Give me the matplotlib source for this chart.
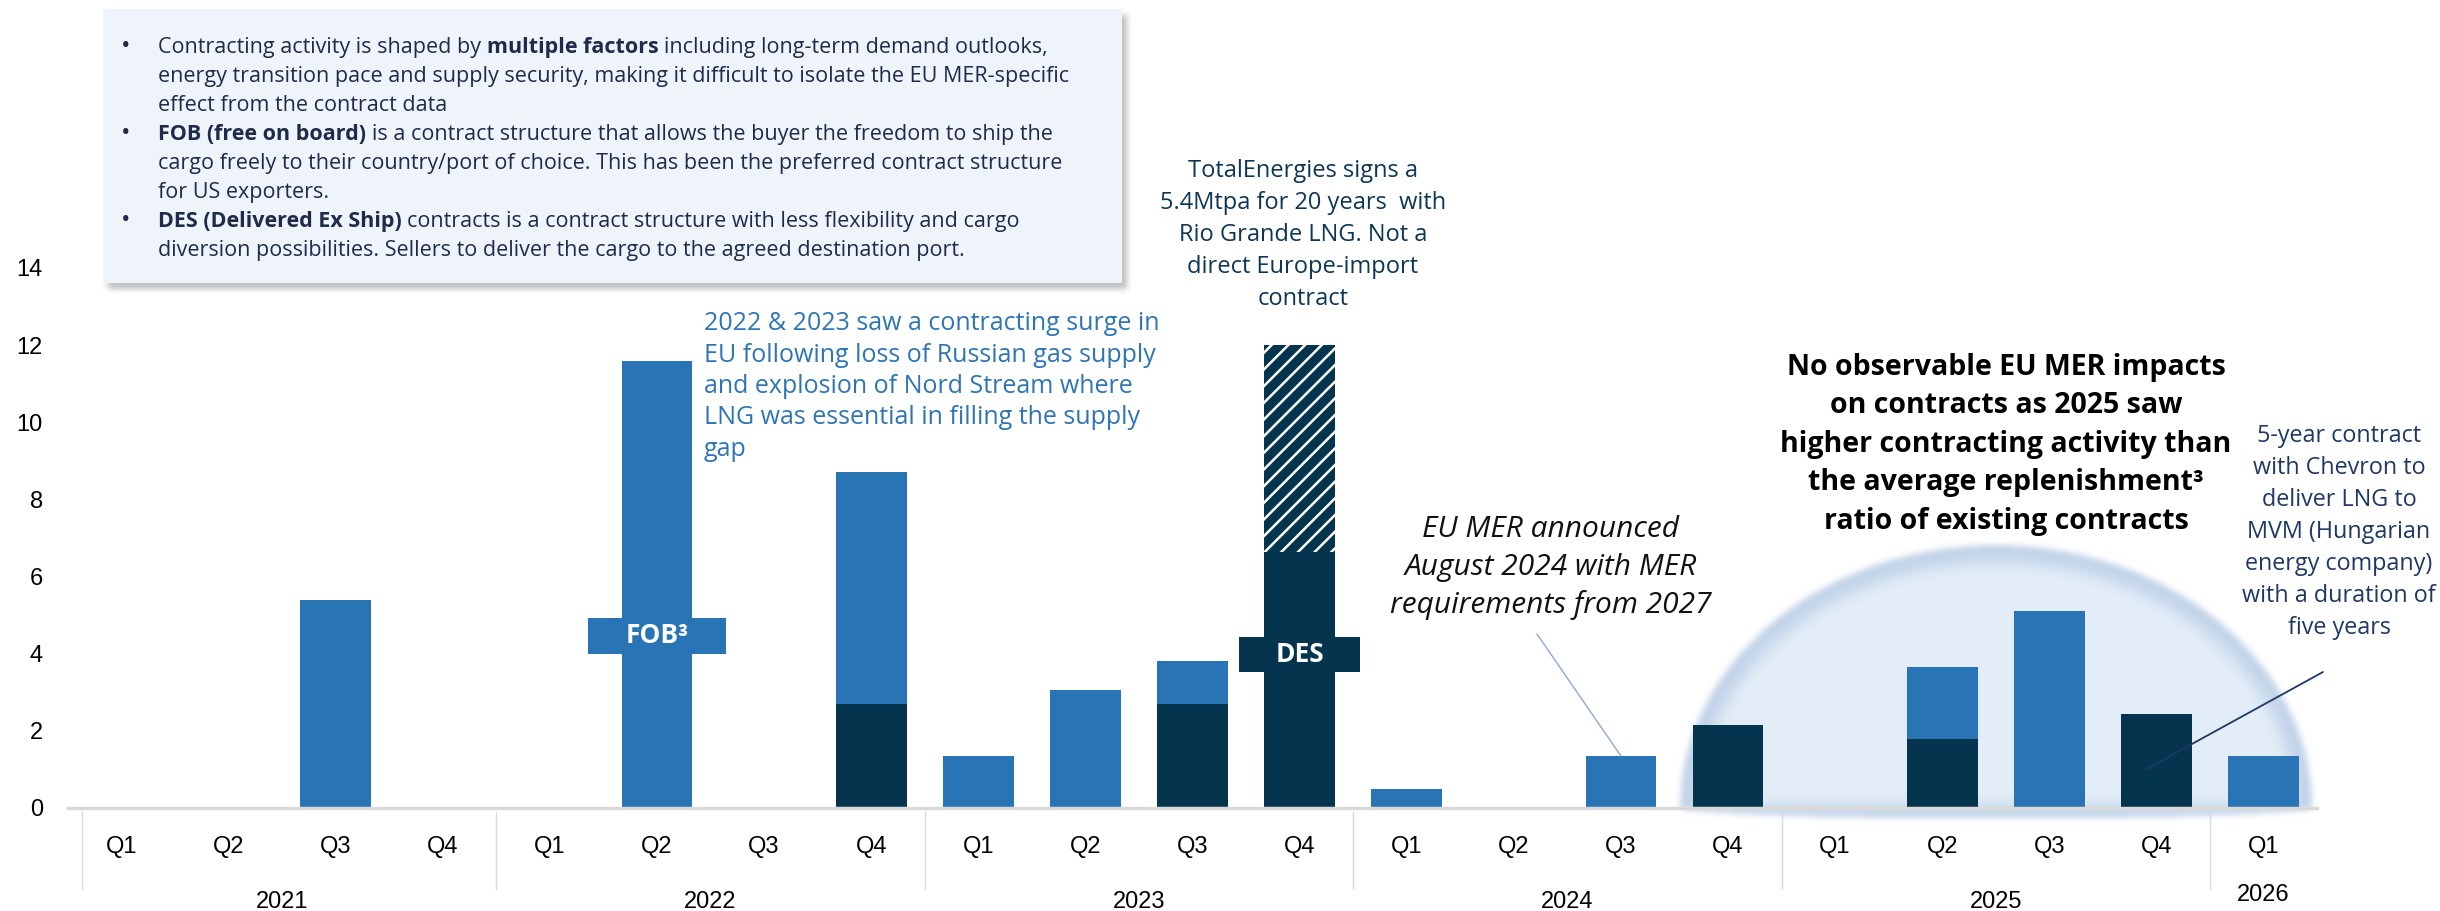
import numpy as np
import matplotlib
matplotlib.use("Agg")
import matplotlib.pyplot as plt
from matplotlib.patches import Rectangle
from matplotlib.text import Annotation
from matplotlib.transforms import blended_transform_factory

# quarterly LNG contract volumes (Mtpa), 2021 Q1 .. 2026 Q1
quarters = ["Q1", "Q2", "Q3", "Q4"] * 5 + ["Q1"]
years = ["2021", "2022", "2023", "2024", "2025", "2026"]
year_first = [0, 4, 8, 12, 16, 20]
year_last = [3, 7, 11, 15, 19, 20]

des = [0, 0, 0, 0, 0, 0, 0, 2.7, 0, 0, 2.7, 6.65, 0, 0, 0, 2.15, 0, 1.8, 0, 2.45, 0]
fob = [0, 0, 5.4, 0, 0, 11.6, 0, 6.0, 1.35, 3.05, 1.1, 0, 0.5, 0, 1.35, 0, 0, 1.85, 5.1, 0, 1.35]
non_europe = [0, 0, 0, 0, 0, 0, 0, 0, 0, 0, 0, 5.35, 0, 0, 0, 0, 0, 0, 0, 0, 0]

BLUE = "#2874B5"
NAVY = "#05344F"
W, H = 2440, 911

plt.rcParams["font.family"] = ["Open Sans", "DejaVu Sans"]
plt.rcParams["hatch.linewidth"] = 1.8

fig = plt.figure(figsize=(W / 100, H / 100), dpi=100)
ax = fig.add_axes([68 / W, 103 / H, 2249 / W, 540 / H])
ax.patch.set_visible(False)
ax.set_xlim(-0.5, 20.5)
ax.set_ylim(0, 14)

x = np.arange(len(quarters))
ax.bar(x, des, width=0.66, color=NAVY, linewidth=0, zorder=2)
ax.bar(x, fob, width=0.66, bottom=des, color=BLUE, linewidth=0, zorder=2)
ax.bar(x, non_europe, width=0.66, bottom=des, color=NAVY, edgecolor="white",
       hatch="//", linewidth=0, zorder=2)

for s in ["left", "top", "right"]:
    ax.spines[s].set_visible(False)
ax.spines["bottom"].set_color("#D9D9D9")
ax.spines["bottom"].set_linewidth(2.5)
ax.spines["bottom"].set_zorder(3)

ax.set_yticks(range(0, 15, 2))
ax.set_xticks(x)
ax.set_xticklabels(quarters)
ax.tick_params(axis="y", length=0, pad=18, labelsize=17)
ax.tick_params(axis="x", length=0, pad=20, labelsize=17)
for lab in ax.get_xticklabels() + ax.get_yticklabels():
    lab.set_fontfamily("Liberation Sans")

# year groups below the quarters
for b in [-0.37, 3.5, 7.5, 11.5, 15.5, 19.5]:
    ax.plot([b, b], [-0.1, -2.1], color="#D9D9D9", lw=1, clip_on=False)
year_tr = blended_transform_factory(ax.transData, fig.transFigure)
for yr, a, b in zip(years, year_first, year_last):
    yy = 1 - (895 if yr == "2026" else 902) / H
    ax.text((a + b) / 2, yy, yr, transform=year_tr, ha="center", va="center",
            fontsize=17, family="Liberation Sans")


def blur(m, s):
    k = np.exp(-0.5 * (np.arange(-3 * s, 3 * s + 1) / s) ** 2)
    k /= k.sum()
    m = np.apply_along_axis(lambda r: np.convolve(r, k, mode="same"), 1, m)
    m = np.apply_along_axis(lambda c: np.convolve(c, k, mode="same"), 0, m)
    return m


# soft dome behind 2025
cx, base = ax.transData.transform((17.5, 0))
a_px = ax.transData.transform((17.5 + 2.95, 0))[0] - cx
b_px = ax.transData.transform((17.5, 6.8))[1] - base
x0, y0 = int(cx - a_px - 40), int(base - 40)
xx, yy = np.meshgrid(np.arange(x0, int(cx + a_px + 40)), np.arange(y0, int(base + b_px + 40)))
dx, dy = xx - cx, yy - base
top = (dy >= 0) & ((dx / a_px) ** 2 + (dy / b_px) ** 2 <= 1)
bot = (dy < 0) & ((dx / a_px) ** 2 + (dy / 11) ** 2 <= 1)
fill = blur((top | bot).astype(float), 3)
inner_m = (dy >= 3) & ((dx / (a_px - 18)) ** 2 + (dy / (b_px - 18)) ** 2 <= 1)
inner = blur(inner_m.astype(float), 7)[..., None]
light = np.array([0.894, 0.933, 0.973])
rim = np.array([0.765, 0.831, 0.914])
rgba = np.concatenate([inner * light + (1 - inner) * rim, fill[..., None]], axis=2)
fig.figimage(rgba, xo=x0, yo=y0, origin="lower", zorder=-1)

# text box with shadow
bx0, bx1, by0, by1 = 103, 1122, 911 - 283, 911 - 9
sh = np.zeros((by1 - by0 + 40, bx1 - bx0 + 40))
sh[20 - 6:20 - 6 + (by1 - by0), 20 + 5:20 + 5 + (bx1 - bx0)] = 1
sh = blur(sh, 3) * 0.45
shadow = np.zeros(sh.shape + (4,))
shadow[..., :3] = 0.45
shadow[..., 3] = sh
fig.figimage(shadow, xo=bx0 - 20, yo=by0 - 20, origin="lower", zorder=-1)
fig.add_artist(Rectangle((bx0 / W, by0 / H), (bx1 - bx0) / W, (by1 - by0) / H,
                         transform=fig.transFigure, facecolor="#EFF4FA", edgecolor="none", zorder=1))

TXT = "#1E2B4A"


def rich(px, py, parts, size=15.5, color=TXT):
    prev = None
    for s, w in parts:
        if prev is None:
            prev = fig.text(px / W, 1 - py / H, s, fontsize=size, fontweight=w, color=color,
                            va="baseline", zorder=2)
        else:
            prev = fig.add_artist(Annotation(s, xy=(1, 0), xycoords=prev, xytext=(0.26 * size, 0),
                                             textcoords="offset points", fontsize=size,
                                             fontweight=w, color=color, va="bottom", ha="left",
                                             zorder=2))


box_lines = [
    (True, [("Contracting activity is shaped by", "normal"), ("multiple factors", "bold"),
            ("including long-term demand outlooks,", "normal")]),
    (False, [("energy transition pace and supply security, making it difficult to isolate the EU MER-specific", "normal")]),
    (False, [("effect from the contract data", "normal")]),
    (True, [("FOB (free on board)", "bold"),
            ("is a contract structure that allows the buyer the freedom to ship the", "normal")]),
    (False, [("cargo freely to their country/port of choice. This has been the preferred contract structure", "normal")]),
    (False, [("for US exporters.", "normal")]),
    (True, [("DES (Delivered Ex Ship)", "bold"),
            ("contracts is a contract structure with less flexibility and cargo", "normal")]),
    (False, [("diversion possibilities. Sellers to deliver the cargo to the agreed destination port.", "normal")]),
]
for i, (bullet, parts) in enumerate(box_lines):
    yb = 53 + i * 29
    if bullet:
        fig.text(121 / W, 1 - yb / H, "•", fontsize=18, color=TXT, va="baseline", zorder=2)
    rich(158, yb, parts)


def lines(px, py, step, text, **kw):
    for i, s in enumerate(text.split("\n")):
        fig.text(px / W, 1 - (py + i * step) / H, s, va="baseline", **kw)


lines(704, 330, 31.5, "2022 & 2023 saw a contracting surge in\nEU following loss of Russian gas supply\n"
      "and explosion of Nord Stream where\nLNG was essential in filling the supply\ngap",
      fontsize=18, color="#2E75B6", ha="left")
lines(1303, 177, 32, "TotalEnergies signs a\n5.4Mtpa for 20 years  with\nRio Grande LNG. Not a\n"
      "direct Europe-import\ncontract", fontsize=17, color="#0E3655", ha="center")
lines(1551, 537, 38, "EU MER announced\nAugust 2024 with MER\nrequirements from 2027",
      fontsize=21.5, style="italic", color="#111111", ha="center")
lines(2006, 375, 38.5, "No observable EU MER impacts\non contracts as 2025 saw\n"
      "higher contracting activity than\nthe average replenishment³\nratio of existing contracts",
      fontsize=20.5, fontweight="bold", color="black", ha="center")
lines(2339, 442, 32, "5-year contract\nwith Chevron to\ndeliver LNG to\nMVM (Hungarian\n"
      "energy company)\nwith a duration of\nfive years", fontsize=16.8, color="#1F3864", ha="center")

ax.annotate("", xy=(14, des[14] + fob[14]), xytext=(1537, H - 634), textcoords="figure pixels",
            arrowprops=dict(arrowstyle="-", color="#8EA9CF", lw=1, shrinkA=0, shrinkB=0), zorder=4)
ax.annotate("", xy=(18.9, 1.0), xytext=(2323, H - 672), textcoords="figure pixels",
            arrowprops=dict(arrowstyle="-", color="#1F3864", lw=1.3, shrinkA=0, shrinkB=0), zorder=4)

# contract type tags
for xc, yc, w, label, col in [(5, 4.46, 1.28, "FOB³", BLUE), (11, 3.97, 1.13, "DES", NAVY)]:
    ax.add_patch(Rectangle((xc - w / 2, yc - 0.455), w, 0.91, facecolor=col, edgecolor="none", zorder=5))
    ax.text(xc, yc, label, ha="center", va="center", color="white", fontsize=19,
            fontweight="bold", zorder=6)

fig.savefig("out.png", dpi=100)
